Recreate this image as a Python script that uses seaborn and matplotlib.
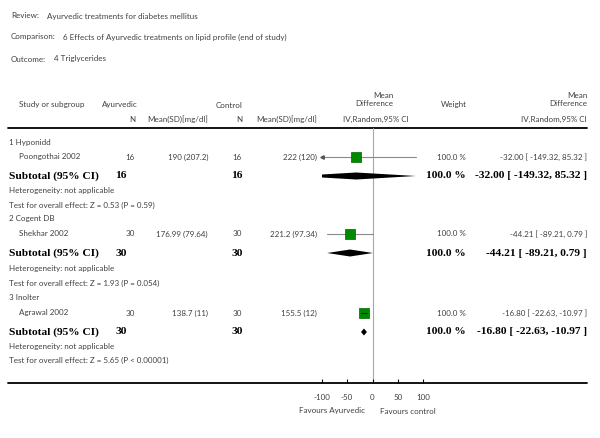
#!/usr/bin/env python3
"""Forest plot: Ayurvedic treatments for diabetes mellitus, triglycerides."""
import matplotlib
matplotlib.use("Agg")
import matplotlib.pyplot as plt
import seaborn as sns

# data
groups = ["1 Hyponidd", "2 Cogent DB", "3 Inolter"]
studies = ["Poongothai 2002", "Shekhar 2002", "Agrawal 2002"]
ayur_n = [16, 30, 30]
ayur_mean = [190, 176.99, 138.7]
ayur_sd = [207.2, 79.64, 11]
ctrl_n = [16, 30, 30]
ctrl_mean = [222, 221.2, 155.5]
ctrl_sd = [120, 97.34, 12]
md = [-32.00, -44.21, -16.80]
md_lo = [-149.32, -89.21, -22.63]
md_hi = [85.32, 0.79, -10.97]
weights = [100.0, 100.0, 100.0]
z_vals = ["0.53", "1.93", "5.65"]
p_vals = ["P = 0.59", "P = 0.054", "P < 0.00001"]
x_ticks = [-100, -50, 0, 50, 100]

# layout (pixel rows)
W, H = 600, 438
row_group = [142, 218, 297]
row_study = [157, 234, 313]
row_sub = [176, 253, 332]
row_het = [191, 269, 347]
row_test = [205, 283, 360]
line_top, line_bot = 127.5, 383

sns.set_style("white")
plt.rcParams["font.family"] = ["Lato", "DejaVu Sans"]
txt = "#404040"
small = 5.75
bold_kw = dict(family="Liberation Serif", fontweight="bold", fontsize=8.2, color="black")

fig = plt.figure(figsize=(W / 100, H / 100), dpi=100)
bg = fig.add_axes([0, 0, 1, 1])
bg.set_xlim(0, W)
bg.set_ylim(H, 0)
bg.axis("off")


def t(x, y, s, ha="left", **kw):
    opts = dict(fontsize=small, color=txt)
    opts.update(kw)
    bg.text(x, y, s, ha=ha, va="center", **opts)


# title block
t(11, 16, "Review:")
t(47, 16, "Ayurvedic treatments for diabetes mellitus")
t(11, 37, "Comparison:")
t(63, 37, "6 Effects of Ayurvedic treatments on lipid profile (end of study)")
t(11, 59, "Outcome:")
t(54, 59, "4 Triglycerides")

# header
t(19, 105, "Study or subgroup")
t(138, 105, "Ayurvedic", ha="right")
t(243, 105, "Control", ha="right")
t(393, 95, "Mean", ha="right")
t(393, 104, "Difference", ha="right")
t(467, 105, "Weight", ha="right")
t(587, 95, "Mean", ha="right")
t(587, 104, "Difference", ha="right")
t(135, 119, "N", ha="right")
t(208, 119, "Mean(SD)[mg/dl]", ha="right")
t(242, 119, "N", ha="right")
t(317, 119, "Mean(SD)[mg/dl]", ha="right")
t(409, 119, "IV,Random,95% CI", ha="right")
t(587, 119, "IV,Random,95% CI", ha="right")

bg.plot([8, 587], [line_top, line_top], color="black", lw=1.3)
bg.plot([8, 587], [line_bot, line_bot], color="black", lw=1.3)

for i in range(len(studies)):
    ci = f"{md[i]:.2f} [ {md_lo[i]:.2f}, {md_hi[i]:.2f} ]"
    t(9, row_group[i], groups[i])
    t(19, row_study[i], studies[i])
    t(135, row_study[i], str(ayur_n[i]), ha="right")
    t(208, row_study[i], f"{ayur_mean[i]:g} ({ayur_sd[i]:g})", ha="right")
    t(242, row_study[i], str(ctrl_n[i]), ha="right")
    t(317, row_study[i], f"{ctrl_mean[i]:g} ({ctrl_sd[i]:g})", ha="right")
    t(466, row_study[i], f"{weights[i]:.1f} %", ha="right")
    t(587, row_study[i], ci, ha="right")

    bg.text(9, row_sub[i], "Subtotal (95% CI)", ha="left", va="center", **bold_kw)
    bg.text(127, row_sub[i], str(ayur_n[i]), ha="right", va="center", **bold_kw)
    bg.text(243, row_sub[i], str(ctrl_n[i]), ha="right", va="center", **bold_kw)
    bg.text(466, row_sub[i], f"{weights[i]:.1f} %", ha="right", va="center", **bold_kw)
    bg.text(587, row_sub[i], ci, ha="right", va="center", **bold_kw)

    t(9, row_het[i], "Heterogeneity: not applicable")
    t(9, row_test[i], f"Test for overall effect: Z = {z_vals[i]} ({p_vals[i]})")

# forest panel, x in MD units, y in pixel rows
x0, x1 = 321.7, 423.3
ax = fig.add_axes([x0 / W, 1 - line_bot / H, (x1 - x0) / W, (line_bot - line_top) / H])
ax.set_xlim(-100, 100)
ax.set_ylim(line_bot, line_top)
ax.patch.set_alpha(0)
for sp in ax.spines.values():
    sp.set_visible(False)
ax.axvline(0, color="#a8a8a8", lw=0.8, zorder=0)

px_per_unit = (x1 - x0) / 200
box = 10
for i in range(len(studies)):
    y = row_study[i]
    inside = (md_hi[i] - md_lo[i]) * px_per_unit < box
    ax.plot([md_lo[i], md_hi[i]], [y, y], color="#202020" if inside else "#8a8a8a",
            lw=0.8, zorder=4 if inside else 1)
    if md_lo[i] < -100:
        ax.plot([-100], [y], marker="<", ms=2.5, color="#555555", clip_on=False, zorder=2)
    ys = row_sub[i]
    ax.fill([md_lo[i], md[i], md_hi[i], md[i]], [ys, ys - 3.5, ys, ys + 3.5],
            color="black", lw=0, zorder=3)

sns.scatterplot(x=md, y=row_study, marker="s", s=58, color="#008a00",
                edgecolor="#006000", linewidth=0.5, ax=ax, zorder=3, legend=False)

ax.set_xticks(x_ticks)
ax.set_xticklabels([f"{v}" for v in x_ticks], fontsize=small, color=txt)
ax.set_yticks([])
ax.tick_params(axis="x", direction="in", length=3, width=0.8, color="black", pad=8, bottom=True)
ax.set_xlabel("")
ax.set_ylabel("")

t(332, 411, "Favours Ayurvedic", ha="center")
t(408, 411, "Favours control", ha="center")

fig.savefig("out.png", dpi=100)
